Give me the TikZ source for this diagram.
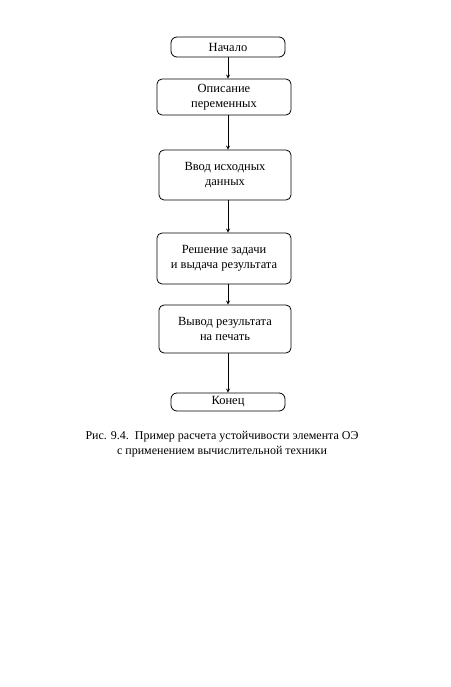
\documentclass[tikz,border=0pt]{standalone}
\usepackage{fontspec}
\setmainfont{Liberation Serif}
\usepackage{tikz}

\begin{document}
\begin{tikzpicture}[x=1pt, y=-1pt,
        block/.style={draw=black, line width=0.8pt, rounded corners=5pt, inner sep=0pt,
                align=center, font=\fontsize{12.5}{15}\selectfont},
        term/.style={block, rounded corners=6pt, minimum width=114pt},
        arr/.style={black, -stealth, line width=0.8pt}]

        \useasboundingbox (0,0) rectangle (450,687);

        \node[term, minimum height=20pt] (nachalo) at (228,47) {Начало};
        \node[block, minimum width=134pt, minimum height=36pt] (opis) at (224,97) {Описание\\переменных};
        \node[block, minimum width=132pt, minimum height=50pt] (vvod) at (225,175) {Ввод исходных\\данных};
        \node[block, minimum width=134pt, minimum height=51pt] (resh) at (224,258.5) {Решение задачи\\и выдача результата};
        \node[block, minimum width=132pt, minimum height=48pt] (vyvod) at (225,329) {Вывод результата\\на печать};
        \node[term, minimum height=18pt] (konec) at (228,402) {Конец};

        \draw[arr] (nachalo.south) -- (nachalo.south |- opis.north);
        \draw[arr] (nachalo.south |- opis.south) -- (nachalo.south |- vvod.north);
        \draw[arr] (nachalo.south |- vvod.south) -- (nachalo.south |- resh.north);
        \draw[arr] (nachalo.south |- resh.south) -- (nachalo.south |- vyvod.north);
        \draw[arr] (nachalo.south |- vyvod.south) -- (konec.north);

        \node[black, align=center, font=\fontsize{12}{15}\selectfont] (caption) at (222,444)
                {Рис. 9.4.\ \ Пример расчета устойчивости элемента ОЭ\\с применением вычислительной техники};
\end{tikzpicture}
\end{document}
